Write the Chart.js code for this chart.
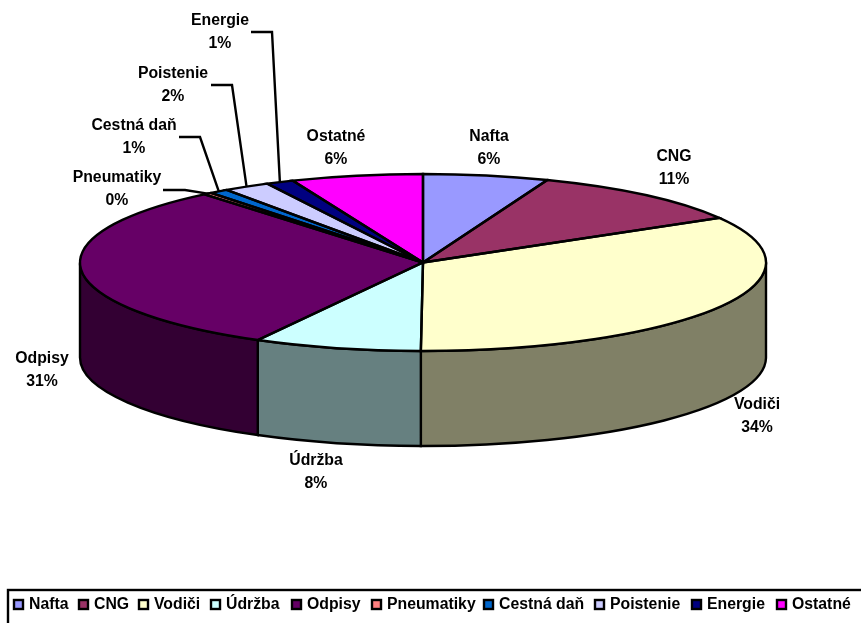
<!DOCTYPE html>
<html>
<head>
<meta charset="utf-8">
<style>
  html, body { margin: 0; padding: 0; background: #fff; }
  canvas { display: block; }
</style>
<script src="https://cdn.jsdelivr.net/npm/chart.js@4"></script>
</head>
<body>
<canvas id="pie" width="861" height="623"></canvas>
<script>
const categories = ['Nafta', 'CNG', 'Vodiči', 'Údržba', 'Odpisy', 'Pneumatiky', 'Cestná daň', 'Poistenie', 'Energie', 'Ostatné']
const shares = [5.9, 10.7, 33.5, 7.9, 31, 0.4, 0.9, 2.2, 1.3, 6.2]
const topColors = ['#9999FF', '#993366', '#FFFFCC', '#CCFFFF', '#660066', '#FF8080', '#0066CC', '#CCCCFF', '#000080', '#FF00FF']
const sideColors = ['#4D4D80', '#4D1A33', '#808066', '#668080', '#330033', '#804040', '#003366', '#666680', '#000040', '#800080']

// label centres (first line), in page pixels
const labelPos = [[489, 137], [674, 157], [757, 405], [316, 461], [42, 359], [117, 178], [134, 126], [173, 74], [220, 21], [336, 137]]
// elbows of the leader lines, the last point is found on the pie edge
const leaders = {
    5: [[163, 190], [185, 190]],
    6: [[179, 137], [200, 137]],
    7: [[211, 85], [232, 85]],
    8: [[251, 32], [272, 32]]
}
const legendX = [14, 79, 139, 211, 292, 372, 484, 595, 692, 777]

const FONT = 'bold 15.8px "Liberation Sans", Arial, sans-serif'
const RADIUS = 343
const SQUASH = 88.5 / 343
const DEPTH = 95

const pie3d = {
    id: 'pie3d',
    beforeDatasetsDraw(chart) {
        const ctx = chart.ctx
        const arcs = chart.getDatasetMeta(0).data
        const { x, y } = arcs[0]
        const ry = RADIUS * SQUASH

        // walls of the front half
        arcs.forEach((arc, i) => {
            const a = Math.max(arc.startAngle, 0)
            const b = Math.min(arc.endAngle, Math.PI)
            if (b <= a) return
            ctx.beginPath()
            ctx.ellipse(x, y, RADIUS, ry, 0, a, b)
            ctx.ellipse(x, y + DEPTH, RADIUS, ry, 0, b, a, true)
            ctx.closePath()
            ctx.fillStyle = sideColors[i]
            ctx.fill()
            ctx.lineWidth = 2.4
            ctx.strokeStyle = '#000'
            ctx.stroke()
        })

        // the library draws the slices, flattened
        ctx.save()
        ctx.translate(x, y)
        ctx.scale(1, SQUASH)
        ctx.translate(-x, -y)
    },
    afterDatasetsDraw(chart) {
        const ctx = chart.ctx
        ctx.restore()
        const arcs = chart.getDatasetMeta(0).data
        const { x, y } = arcs[0]
        const ry = RADIUS * SQUASH

        ctx.strokeStyle = '#000'
        ctx.lineWidth = 2.4
        arcs.forEach(arc => {
            ctx.beginPath()
            ctx.moveTo(x, y)
            ctx.ellipse(x, y, RADIUS, ry, 0, arc.startAngle, arc.endAngle)
            ctx.closePath()
            ctx.stroke()
        })

        // leader lines
        Object.keys(leaders).forEach(k => {
            const arc = arcs[k]
            const mid = (arc.startAngle + arc.endAngle) / 2
            ctx.beginPath()
            leaders[k].forEach((p, n) => n ? ctx.lineTo(p[0], p[1]) : ctx.moveTo(p[0], p[1]))
            ctx.lineTo(x + RADIUS * Math.cos(mid), y + ry * Math.sin(mid))
            ctx.stroke()
        })

        // data labels
        ctx.font = FONT
        ctx.fillStyle = '#000'
        ctx.textAlign = 'center'
        ctx.textBaseline = 'middle'
        categories.forEach((name, i) => {
            ctx.fillText(name, labelPos[i][0], labelPos[i][1])
            ctx.fillText(Math.round(shares[i]) + '%', labelPos[i][0], labelPos[i][1] + 23)
        })

        // legend box runs off the page on the right and at the bottom
        ctx.strokeRect(8, 590, 900, 100)
        ctx.textAlign = 'left'
        categories.forEach((name, i) => {
            ctx.fillStyle = topColors[i]
            ctx.fillRect(legendX[i], 600, 9, 9)
            ctx.strokeRect(legendX[i], 600, 9, 9)
            ctx.fillStyle = '#000'
            ctx.fillText(name, legendX[i] + 15, 605)
        })
    }
}

new Chart(document.getElementById('pie'), {
    type: 'pie',
    data: {
        labels: categories,
        datasets: [{
            data: shares,
            backgroundColor: topColors,
            borderWidth: 0,
            radius: RADIUS,
            clip: false
        }]
    },
    options: {
        responsive: false,
        animation: false,
        events: [],
        layout: { padding: { right: 15, bottom: 98 } },
        plugins: { legend: { display: false }, tooltip: { enabled: false } }
    },
    plugins: [pie3d]
})
</script>
</body>
</html>
